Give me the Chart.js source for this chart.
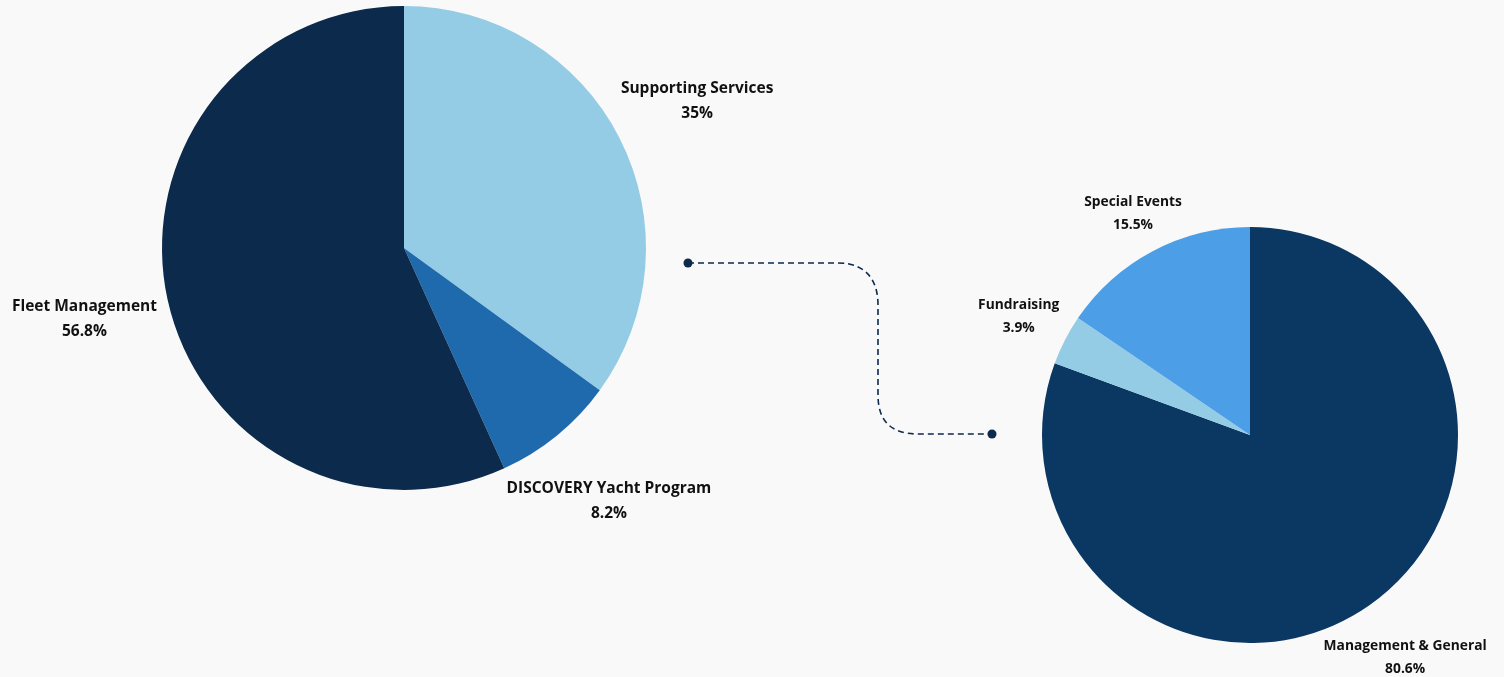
<!DOCTYPE html>
<html>
<head>
<meta charset="utf-8">
<script src="https://cdn.jsdelivr.net/npm/chart.js@4/dist/chart.umd.min.js"></script>
<style>
  html, body { margin: 0; padding: 0; background: #f9f9f9; }
  .wrap { position: absolute; left: 0; top: 0; width: 1504px; height: 677px; }
</style>
</head>
<body>
<div class="wrap"><canvas id="chart"></canvas></div>
<div class="wrap"><canvas id="chart2"></canvas></div>
<script>
const programLabels = ['Supporting Services', 'DISCOVERY Yacht Program', 'Fleet Management'];
const programValues = [35, 8.2, 56.8];
const programColors = ['#94cce6', '#1f69ad', '#0c2a4c'];

const supportLabels = ['Management & General', 'Fundraising', 'Special Events'];
const supportValues = [80.6, 3.9, 15.5];
const supportColors = ['#0b3863', '#94cce6', '#4c9ee6'];

Chart.defaults.font.family = '"Open Sans", Lato, sans-serif';

// draws "name / value%" outside each slice
const outsideLabels = {
    id: 'outsideLabels',
    afterDatasetsDraw(chart, args, opts) {
        const ctx = chart.ctx;
        const meta = chart.getDatasetMeta(0);
        const data = chart.data.datasets[0].data;
        ctx.save();
        ctx.fillStyle = '#111111';
        ctx.textAlign = 'center';
        ctx.textBaseline = 'middle';
        ctx.font = `bold ${opts.size}px "Open Sans", Lato, sans-serif`;
        meta.data.forEach((arc, i) => {
            const mid = (arc.startAngle + arc.endAngle) / 2;
            const r = arc.outerRadius + opts.offset[i];
            const x = arc.x + Math.cos(mid) * r;
            const y = arc.y + Math.sin(mid) * r + opts.shift;
            ctx.fillText(chart.data.labels[i], x, y - opts.gap / 2);
            ctx.fillText(data[i] + '%', x, y + opts.gap / 2);
        });
        ctx.restore();
    }
};

// dashed connector between the two pies
const connector = {
    id: 'connector',
    afterDraw(chart) {
        const ctx = chart.ctx;
        ctx.save();
        ctx.strokeStyle = '#0c2a4c';
        ctx.fillStyle = '#0c2a4c';
        ctx.lineWidth = 1.6;
        ctx.setLineDash([6, 4]);
        ctx.beginPath();
        ctx.moveTo(688, 263);
        ctx.lineTo(838, 263);
        ctx.bezierCurveTo(870, 263, 878, 285, 878, 305);
        ctx.lineTo(878, 395);
        ctx.bezierCurveTo(878, 420, 890, 434, 918, 434);
        ctx.lineTo(992, 434);
        ctx.stroke();
        ctx.setLineDash([]);
        [[688, 263], [992, 434]].forEach(p => {
            ctx.beginPath();
            ctx.arc(p[0], p[1], 4.5, 0, Math.PI * 2);
            ctx.fill();
        });
        ctx.restore();
    }
};

function pieOptions(padding, labelOpts) {
    return {
        responsive: false,
        animation: false,
        events: [],
        layout: { padding: padding },
        plugins: {
            legend: { display: false },
            tooltip: { enabled: false },
            outsideLabels: labelOpts
        }
    };
}

document.addEventListener("DOMContentLoaded", () => {
    const chart1 = document.getElementById('chart');
    const chart2 = document.getElementById('chart2');
    [chart1, chart2].forEach(c => { c.width = 1504; c.height = 677; });

    new Chart(chart1, {
        type: 'pie',
        data: {
            labels: programLabels,
            datasets: [{
                data: programValues,
                backgroundColor: programColors,
                borderWidth: 0
            }]
        },
        options: pieOptions({ left: 162, right: 858, top: 6, bottom: 187 }, { size: 15.5, offset: [87, 82, 85], gap: 25, shift: 2 }),
        plugins: [outsideLabels, connector]
    });

    new Chart(chart2, {
        type: 'pie',
        data: {
            labels: supportLabels,
            datasets: [{
                data: supportValues,
                backgroundColor: supportColors,
                borderWidth: 0
            }]
        },
        options: pieOptions({ left: 1042, right: 46, top: 227, bottom: 34 }, { size: 13.8, offset: [63, 52, 42], gap: 23, shift: 0 }),
        plugins: [outsideLabels]
    });
});
</script>
</body>
</html>
